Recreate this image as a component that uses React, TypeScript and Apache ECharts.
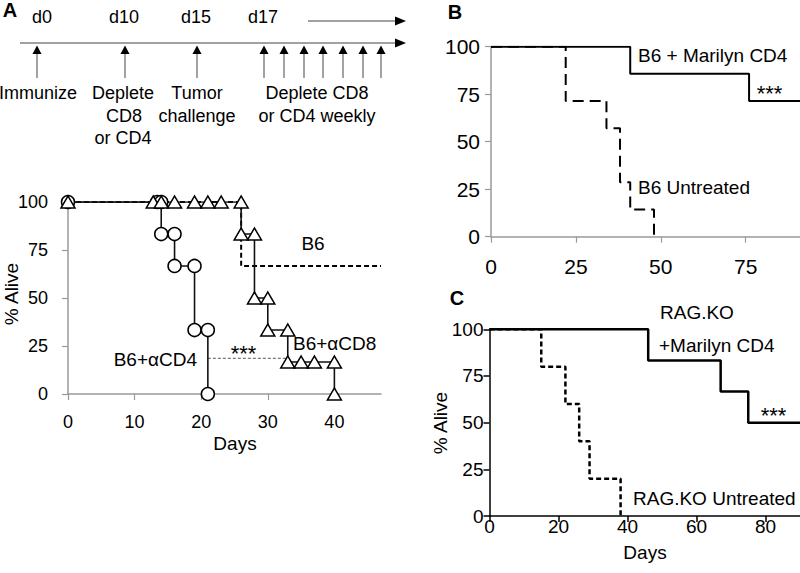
import React, { useEffect, useRef } from "react";
import * as echarts from "echarts";

// ---------- Panel A data ----------
const aCircleDays = [0, 14, 16, 19, 21];
const aCircleSurv = [100, 83.3, 66.7, 33.3, 0];
const aCircleMarkDays = [0, 13.4, 14, 14, 16, 16, 19, 19, 21, 21];
const aCircleMarkSurv = [100, 100, 100, 83.3, 83.3, 66.7, 66.7, 33.3, 33.3, 0];

const aTriDays = [0, 26, 28, 30, 33, 40];
const aTriSurv = [100, 83.3, 50, 33.3, 16.7, 0];
const aTriMarkDays = [0, 12.8, 14, 16, 19, 21, 23, 26, 26, 28, 28, 30, 30, 33, 33, 35, 37, 40, 40];
const aTriMarkSurv = [100, 100, 100, 100, 100, 100, 100, 100, 83.3, 83.3, 50, 50, 33.3, 33.3, 16.7, 16.7, 16.7, 16.7, 0];

const aB6Days = [0, 26, 47];
const aB6Surv = [100, 66.7, 66.7];

const aSigDays = [21, 33];
const aSigSurv = [18.6, 18.6];

const aXTicks = [0, 10, 20, 30, 40];

// ---------- Panel B data ----------
const bMarilynDays = [0, 41, 76, 91];
const bMarilynSurv = [100, 85.7, 71.4, 71.4];
const bUntreatedDays = [0, 22, 34, 38, 41, 48];
const bUntreatedSurv = [100, 71.4, 57.1, 28.6, 14.3, 0];
const bXTicks = [0, 25, 50, 75];

// ---------- Panel C data ----------
const cMarilynDays = [0, 46, 67, 75, 90];
const cMarilynSurv = [100, 83.3, 66.7, 50, 50];
const cUntreatedDays = [0, 15, 22, 26, 29, 38];
const cUntreatedSurv = [100, 80, 60, 40, 20, 0];
const cXTicks = [0, 20, 40, 60, 80];

// ---------- Timeline schematic ----------
const timelineDayLabels = ["d0", "d10", "d15", "d17"];
const timelineDayLabelX = [42, 124, 196, 263];
const timelineArrowX = [37, 125, 197, 264, 284, 304, 323, 343, 363, 381];

const FONT = '"Liberation Sans", Arial, Helvetica, sans-serif';
const GRAY = "#9a9a9a";

const zip = (xs: number[], ys: number[]) => xs.map((x, i) => [x, ys[i]]);

function txt(text: string, x: number, y: number, o: any = {}) {
  return {
    type: "text",
    x,
    y,
    rotation: o.rotation || 0,
    z: 100,
    style: {
      text,
      fontSize: o.size || 18,
      fontFamily: FONT,
      fontWeight: o.bold ? "bold" : "normal",
      fill: "#000",
      align: o.align || "center",
      verticalAlign: "middle",
    },
  };
}

export default function App() {
  const ref = useRef<HTMLDivElement>(null);
  useEffect(() => {
    if (!ref.current) return;
    const chart = echarts.init(ref.current, null, { renderer: "svg" });

    const graphics: any[] = [];
    // timeline lines
    graphics.push({ type: "line", shape: { x1: 20, y1: 43, x2: 398, y2: 43 }, style: { stroke: "#444", lineWidth: 1.2 } });
    graphics.push({ type: "polygon", shape: { points: [[395, 38.5], [406, 43], [395, 47.5]] }, style: { fill: "#000" } });
    graphics.push({ type: "line", shape: { x1: 308, y1: 21, x2: 398, y2: 21 }, style: { stroke: "#444", lineWidth: 1.2 } });
    graphics.push({ type: "polygon", shape: { points: [[395, 16.5], [406, 21], [395, 25.5]] }, style: { fill: "#000" } });
    timelineArrowX.forEach((x) => {
      graphics.push({ type: "line", shape: { x1: x, y1: 78, x2: x, y2: 52 }, style: { stroke: "#666", lineWidth: 1.2 } });
      graphics.push({ type: "polygon", shape: { points: [[x - 4.5, 54], [x, 45.5], [x + 4.5, 54]] }, style: { fill: "#000" } });
    });
    timelineDayLabels.forEach((t, i) => graphics.push(txt(t, timelineDayLabelX[i], 17)));
    graphics.push(txt("Immunize", 38, 93));
    graphics.push(txt("Deplete", 123, 93));
    graphics.push(txt("CD8", 124, 116));
    graphics.push(txt("or CD4", 123, 138));
    graphics.push(txt("Tumor", 197, 93));
    graphics.push(txt("challenge", 197, 116));
    graphics.push(txt("Deplete CD8", 317, 93));
    graphics.push(txt("or CD4 weekly", 317, 116));
    // panel letters
    graphics.push(txt("A", 10, 10, { bold: true, size: 20 }));
    graphics.push(txt("B", 455, 12, { bold: true, size: 20 }));
    graphics.push(txt("C", 457, 298, { bold: true, size: 20 }));
    // panel A labels
    graphics.push(txt("% Alive", 11, 294, { rotation: Math.PI / 2, size: 19 }));
    graphics.push(txt("Days", 235, 443, { size: 19 }));
    graphics.push(txt("B6", 313, 243, { size: 19 }));
    graphics.push(txt("B6+αCD8", 293, 343, { size: 19, align: "left" }));
    graphics.push(txt("B6+αCD4", 197, 359, { size: 19, align: "right" }));
    graphics.push(txt("***", 243.5, 353, { size: 22 }));
    // panel B labels
    graphics.push(txt("B6 + Marilyn CD4", 638, 55, { size: 19, align: "left" }));
    graphics.push(txt("***", 769.5, 93, { size: 22 }));
    graphics.push(txt("B6 Untreated", 638, 187, { size: 19, align: "left" }));
    // panel C labels
    graphics.push(txt("RAG.KO", 660, 312, { size: 19, align: "left" }));
    graphics.push(txt("+Marilyn CD4", 659, 345, { size: 19, align: "left" }));
    graphics.push(txt("***", 773.5, 415, { size: 22 }));
    graphics.push(txt("RAG.KO Untreated", 633, 498, { size: 19, align: "left" }));
    graphics.push(txt("% Alive", 440, 423, { rotation: Math.PI / 2, size: 19 }));
    graphics.push(txt("Days", 645, 552, { size: 19 }));

    const grayAxis = (extra: any) => ({
      type: "value",
      axisLine: { show: true, onZero: false, lineStyle: { color: GRAY, width: 1.5 } },
      axisTick: { show: true, length: 6, lineStyle: { color: GRAY, width: 1.2 } },
      splitLine: { show: false },
      ...extra,
    });
    const blackAxis = (extra: any) => ({
      type: "value",
      axisLine: { show: true, onZero: false, lineStyle: { color: "#000", width: 1.5 } },
      axisTick: { show: true, length: 6, lineStyle: { color: "#000", width: 1.5 } },
      splitLine: { show: false },
      ...extra,
    });

    const labelStyle = (size: number, margin: number) => ({
      fontSize: size,
      fontFamily: FONT,
      color: "#000",
      margin,
    });

    const stepLine = (name: string, xi: number, data: number[][], ls: any, z = 3) => ({
      name,
      type: "line",
      xAxisIndex: xi,
      yAxisIndex: xi,
      step: "end",
      data,
      symbol: "none",
      lineStyle: ls,
      z,
      silent: true,
    });

    const option: any = {
      animation: false,
      backgroundColor: "#fff",
      textStyle: { fontFamily: FONT },
      grid: [
        { left: 68, top: 202, width: 313, height: 192 },
        { left: 491, top: 46.7, width: 309, height: 190 },
        { left: 489.5, top: 329.3, width: 312, height: 186.7 },
      ],
      xAxis: [
        grayAxis({
          gridIndex: 0, min: 0, max: 47,
          axisTick: { show: true, length: 6, customValues: aXTicks, lineStyle: { color: GRAY, width: 1.2 } },
          axisLabel: { ...labelStyle(18, 19), customValues: aXTicks },
        }),
        grayAxis({
          gridIndex: 1, min: 0, max: 91,
          axisTick: { show: true, length: 6, customValues: bXTicks, lineStyle: { color: GRAY, width: 1.2 } },
          axisLabel: { ...labelStyle(21, 19), customValues: bXTicks },
        }),
        blackAxis({
          gridIndex: 2, min: 0, max: 90,
          axisTick: { show: true, length: 6, customValues: cXTicks, lineStyle: { color: "#000", width: 1.5 } },
          axisLabel: { ...labelStyle(19, 1), customValues: cXTicks },
        }),
      ],
      yAxis: [
        grayAxis({ gridIndex: 0, min: 0, max: 100, interval: 25, axisLabel: labelStyle(18, 20) }),
        grayAxis({ gridIndex: 1, min: 0, max: 100, interval: 25, axisLabel: labelStyle(21, 11) }),
        blackAxis({ gridIndex: 2, min: 0, max: 100, interval: 25, axisLabel: labelStyle(19, 6) }),
      ],
      graphic: graphics,
      series: [
        // Panel A
        stepLine("B6", 0, zip(aB6Days, aB6Surv), { color: "#000", width: 2, type: [5, 3] }, 2),
        stepLine("B6+αCD4", 0, zip(aCircleDays, aCircleSurv), { color: "#111", width: 1.6 }, 3),
        stepLine("B6+αCD8", 0, zip(aTriDays, aTriSurv), { color: "#111", width: 1.6 }, 3),
        {
          name: "sig", type: "line", xAxisIndex: 0, yAxisIndex: 0, data: zip(aSigDays, aSigSurv),
          symbol: "none", lineStyle: { color: "#555", width: 1, type: [3, 2] }, z: 2, silent: true,
        },
        {
          name: "αCD4 marks", type: "scatter", xAxisIndex: 0, yAxisIndex: 0,
          data: zip(aCircleMarkDays, aCircleMarkSurv), symbol: "circle", symbolSize: 13,
          itemStyle: { color: "#fff", borderColor: "#000", borderWidth: 1.5, opacity: 1 }, z: 5, silent: true,
        },
        {
          name: "αCD8 marks", type: "scatter", xAxisIndex: 0, yAxisIndex: 0,
          data: zip(aTriMarkDays, aTriMarkSurv), symbol: "triangle", symbolSize: [14, 12],
          itemStyle: { color: "#fff", borderColor: "#000", borderWidth: 1.5, opacity: 1 }, z: 6, silent: true,
        },
        // Panel B
        stepLine("B6 Untreated", 1, zip(bUntreatedDays, bUntreatedSurv), { color: "#000", width: 2, type: [11, 6] }, 2),
        stepLine("B6 + Marilyn CD4", 1, zip(bMarilynDays, bMarilynSurv), { color: "#000", width: 2 }, 3),
        // Panel C
        stepLine("RAG.KO Untreated", 2, zip(cUntreatedDays, cUntreatedSurv), { color: "#000", width: 2.5, type: [5, 3] }, 2),
        stepLine("RAG.KO +Marilyn CD4", 2, zip(cMarilynDays, cMarilynSurv), { color: "#000", width: 2.5 }, 3),
      ],
    };
    chart.setOption(option);
    return () => chart.dispose();
  }, []);
  return (
    <div
      ref={ref}
      style={{ position: "fixed", left: 0, top: 0, width: 800, height: 573, background: "#fff" }}
    />
  );
}
